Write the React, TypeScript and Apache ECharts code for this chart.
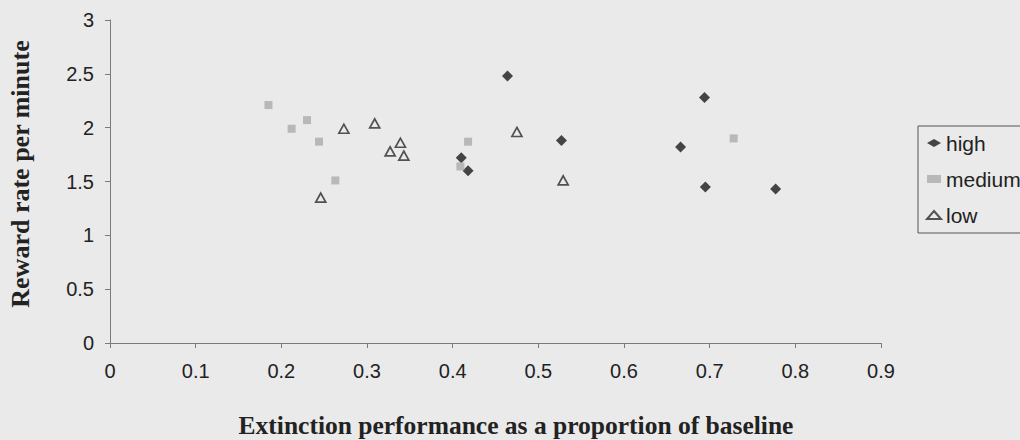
import React, { useEffect, useRef } from "react";
import * as echarts from "echarts";

// ---- data ----
const seriesNames = ["high", "medium", "low"];

const highX = [0.464, 0.527, 0.41, 0.418, 0.694, 0.666, 0.695, 0.777];
const highY = [2.48, 1.88, 1.72, 1.6, 2.28, 1.82, 1.45, 1.43];

const mediumX = [0.185, 0.212, 0.23, 0.244, 0.263, 0.418, 0.409, 0.728];
const mediumY = [2.21, 1.99, 2.07, 1.87, 1.51, 1.87, 1.64, 1.9];

const lowX = [0.246, 0.273, 0.309, 0.339, 0.327, 0.343, 0.475, 0.529];
const lowY = [1.35, 1.99, 2.04, 1.86, 1.78, 1.74, 1.96, 1.51];

const xMin = 0;
const xMax = 0.9;
const xStep = 0.1;
const yMin = 0;
const yMax = 3;
const yStep = 0.5;

const xTitle = "Extinction performance as a proportion of baseline";
const yTitle = "Reward rate per minute";

const pairs = (xs: number[], ys: number[]) => xs.map((x, i) => [x, ys[i]]);

const BG = "#eaeaea";
const SANS = "'Liberation Sans', Arial, sans-serif";
const SERIF = "'Liberation Serif', 'Times New Roman', serif";

export default function App() {
  const ref = useRef<HTMLDivElement>(null);

  useEffect(() => {
    if (!ref.current) return;
    const chart = echarts.init(ref.current, undefined, { renderer: "svg" });
    const axisLine = { show: true, lineStyle: { color: "#7a7a7a", width: 1 } };
    const axisTick = { show: true, length: 5, inside: false, lineStyle: { color: "#7a7a7a", width: 1 } };
    chart.setOption({
      animation: false,
      backgroundColor: BG,
      grid: { left: 110, top: 20, right: 139, bottom: 97, containLabel: false },
      xAxis: {
        type: "value",
        min: xMin,
        max: xMax,
        interval: xStep,
        axisLine,
        axisTick,
        splitLine: { show: false },
        axisLabel: { fontSize: 20, color: "#222", fontFamily: SANS, margin: 18 },
      },
      yAxis: {
        type: "value",
        min: yMin,
        max: yMax,
        interval: yStep,
        axisLine,
        axisTick,
        splitLine: { show: false },
        axisLabel: { fontSize: 20, color: "#222", fontFamily: SANS, margin: 16 },
      },
      legend: {
        show: true,
        orient: "vertical",
        left: 918,
        top: 126,
        padding: [5, 30, 6, 8],
        borderColor: "#555",
        borderWidth: 1,
        itemWidth: 14,
        itemHeight: 8,
        itemGap: 12,
        textStyle: { fontSize: 21, lineHeight: 24, color: "#222", fontFamily: SANS },
        data: seriesNames,
      },
      graphic: [
        {
          type: "text",
          x: 516,
          y: 425,
          style: {
            text: xTitle,
            fontSize: 25.5,
            fontWeight: "bold",
            fontFamily: SERIF,
            fill: "#222",
            textAlign: "center",
            textVerticalAlign: "middle",
          },
        },
        {
          type: "text",
          x: 20,
          y: 174,
          rotation: Math.PI / 2,
          style: {
            text: yTitle,
            fontSize: 26,
            fontWeight: "bold",
            fontFamily: SERIF,
            fill: "#222",
            textAlign: "center",
            textVerticalAlign: "middle",
          },
        },
      ],
      series: [
        {
          name: seriesNames[0],
          type: "scatter",
          symbol: "diamond",
          symbolSize: 11,
          itemStyle: { color: "#1a1a1a" },
          data: pairs(highX, highY),
        },
        {
          name: seriesNames[1],
          type: "scatter",
          symbol: "rect",
          symbolSize: 8,
          itemStyle: { color: "#ababab" },
          data: pairs(mediumX, mediumY),
        },
        {
          name: seriesNames[2],
          type: "scatter",
          symbol: "triangle",
          symbolSize: [10, 9],
          itemStyle: { color: "rgba(0,0,0,0)", borderColor: "#2a2a2a", borderWidth: 1.7 },
          data: pairs(lowX, lowY),
        },
      ],
    });
    return () => chart.dispose();
  }, []);

  return (
    <div
      ref={ref}
      style={{ position: "fixed", left: 0, top: 0, width: 1020, height: 440, background: BG }}
    />
  );
}
